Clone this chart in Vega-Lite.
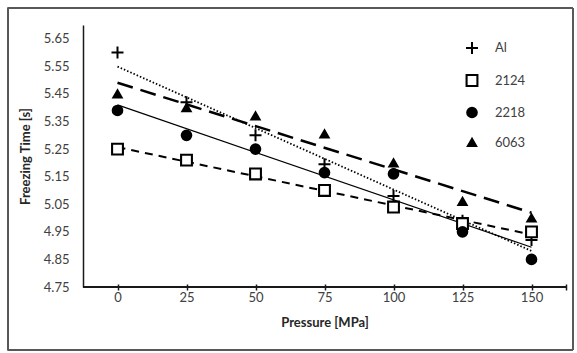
{
  "$schema": "https://vega.github.io/schema/vega-lite/v6.json",
  "width": 483,
  "height": 262,
  "padding": {"left": 7, "top": 7, "right": 5, "bottom": 4},
  "background": "white",
  "config": {
    "view": {"stroke": null},
    "font": "Lato",
    "axis": {
      "grid": false, "labelFontSize": 13, "labelColor": "#404040", "labelOverlap": false,
      "titleFontSize": 13, "titleFontWeight": "bold", "titleColor": "#262626"
    },
    "axisX": {
      "domain": false, "tickSize": 6, "offset": -3, "tickColor": "#1a1a1a", "tickWidth": 1.5,
      "labelPadding": 1, "titlePadding": 12
    },
    "axisY": {
      "ticks": false, "tickSize": 0, "labelPadding": 14, "domainColor": "#1a1a1a", "domainWidth": 1.5,
      "titlePadding": 11
    },
    "legend": {"labelFontSize": 13, "labelColor": "#404040", "labelFont": "Lato"}
  },
  "data": {
    "values": [
      {"p": 0, "t": 5.60, "s": "Al"},
      {"p": 25, "t": 5.42, "s": "Al"},
      {"p": 50, "t": 5.30, "s": "Al"},
      {"p": 75, "t": 5.195, "s": "Al"},
      {"p": 100, "t": 5.08, "s": "Al"},
      {"p": 125, "t": 4.99, "s": "Al"},
      {"p": 150, "t": 4.92, "s": "Al"},
      {"p": 0, "t": 5.25, "s": "2124"},
      {"p": 25, "t": 5.21, "s": "2124"},
      {"p": 50, "t": 5.16, "s": "2124"},
      {"p": 75, "t": 5.10, "s": "2124"},
      {"p": 100, "t": 5.04, "s": "2124"},
      {"p": 125, "t": 4.98, "s": "2124"},
      {"p": 150, "t": 4.95, "s": "2124"},
      {"p": 0, "t": 5.39, "s": "2218"},
      {"p": 25, "t": 5.30, "s": "2218"},
      {"p": 50, "t": 5.25, "s": "2218"},
      {"p": 75, "t": 5.165, "s": "2218"},
      {"p": 100, "t": 5.16, "s": "2218"},
      {"p": 125, "t": 4.95, "s": "2218"},
      {"p": 150, "t": 4.85, "s": "2218"},
      {"p": 0, "t": 5.45, "s": "6063"},
      {"p": 25, "t": 5.40, "s": "6063"},
      {"p": 50, "t": 5.37, "s": "6063"},
      {"p": 75, "t": 5.305, "s": "6063"},
      {"p": 100, "t": 5.20, "s": "6063"},
      {"p": 125, "t": 5.06, "s": "6063"},
      {"p": 150, "t": 5.00, "s": "6063"}
    ]
  },
  "encoding": {
    "x": {
      "field": "p", "type": "quantitative", "title": "Pressure [MPa]",
      "scale": {"domain": [-12.5, 162.5], "nice": false, "zero": false},
      "axis": {
        "values": [0, 25, 50, 75, 100, 125, 150, 162.5],
        "labelExpr": "datum.value > 150 ? '' : datum.label"
      }
    },
    "y": {
      "field": "t", "type": "quantitative", "title": "Freezing Time [s]",
      "scale": {"domain": [4.75, 5.70], "nice": false, "zero": false},
      "axis": {
        "values": [4.75, 4.85, 4.95, 5.05, 5.15, 5.25, 5.35, 5.45, 5.55, 5.65],
        "format": ".2f"
      }
    }
  },
  "layer": [
    {
      "transform": [{"filter": {"field": "s", "equal": "Al"}}, {"regression": "t", "on": "p", "extent": [0, 150]}],
      "mark": {"type": "line", "color": "black", "strokeWidth": 1.8, "strokeDash": [1.5, 2]}
    },
    {
      "transform": [{"filter": {"field": "s", "equal": "2124"}}, {"regression": "t", "on": "p", "extent": [0, 150]}],
      "mark": {"type": "line", "color": "black", "strokeWidth": 2, "strokeDash": [8, 6]}
    },
    {
      "transform": [{"filter": {"field": "s", "equal": "2218"}}, {"regression": "t", "on": "p", "extent": [0, 150]}],
      "mark": {"type": "line", "color": "black", "strokeWidth": 1.2}
    },
    {
      "transform": [{"filter": {"field": "s", "equal": "6063"}}, {"regression": "t", "on": "p", "extent": [0, 150]}],
      "mark": {"type": "line", "color": "black", "strokeWidth": 2.5, "strokeDash": [16, 8]}
    },
    {
      "mark": {"type": "point", "stroke": "black", "opacity": 1, "filled": true},
      "encoding": {
        "shape": {
          "field": "s", "type": "nominal",
          "scale": {"domain": ["Al", "2124", "2218", "6063"], "range": ["M-1,0H1M0,-1V1", "square", "circle", "triangle-up"]},
          "legend": {
            "title": null, "orient": "none", "legendX": 382, "legendY": 16,
            "rowPadding": 12, "labelOffset": 16, "symbolStrokeColor": "black"
          }
        },
        "fill": {
          "field": "s", "type": "nominal",
          "scale": {"domain": ["Al", "2124", "2218", "6063"], "range": ["black", "white", "black", "black"]}
        },
        "size": {
          "field": "s", "type": "nominal",
          "scale": {"domain": ["Al", "2124", "2218", "6063"], "range": [144, 64, 95, 90]}
        },
        "strokeWidth": {
          "field": "s", "type": "nominal",
          "scale": {"domain": ["Al", "2124", "2218", "6063"], "range": [2, 2.2, 0.5, 0.5]}
        }
      }
    },
    {
      "mark": {"type": "rule", "color": "#1a1a1a", "strokeWidth": 1.5},
      "encoding": {"x": null, "y": {"datum": 4.75, "type": "quantitative", "title": "Freezing Time [s]"}}
    },
    {
      "mark": {"type": "rect", "fill": null, "stroke": "#595959", "strokeWidth": 1},
      "encoding": {
        "x": {"datum": -39.7, "type": "quantitative", "title": "Pressure [MPa]"},
        "x2": {"datum": 165.0},
        "y": {"datum": 5.7616, "type": "quantitative", "title": "Freezing Time [s]"},
        "y2": {"datum": 4.5216}
      }
    }
  ]
}
